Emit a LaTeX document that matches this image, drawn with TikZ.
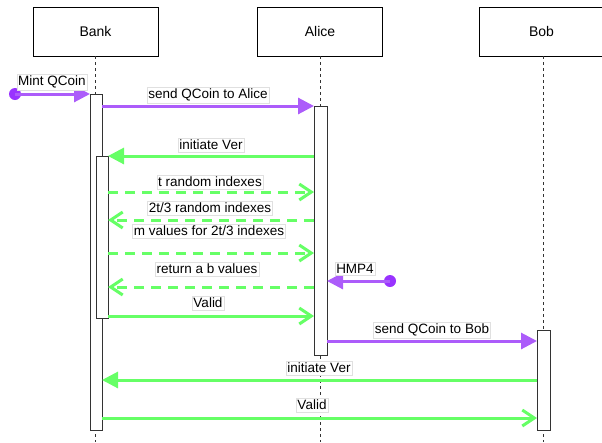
\documentclass[tikz,border=0pt]{standalone}
\usepackage{fontspec}
\setmainfont{Liberation Sans}
\usetikzlibrary{arrows.meta}
\definecolor{vio}{HTML}{AC5CFA}
\definecolor{viodot}{HTML}{9933FF}
\definecolor{grn}{HTML}{66FF66}
\tikzset{
  header/.style={draw=black, fill=white, line width=0.8pt, minimum width=125pt, minimum height=49pt, inner sep=0pt, font=\fontsize{14}{16}\selectfont},
  lifeline/.style={draw=black!80, line width=0.8pt, dash pattern=on 3pt off 3pt},
  actbar/.style={draw=black!80, fill=white, line width=0.9pt},
  lbl/.style={fill=white, draw=black!12, line width=0.4pt, inner xsep=1.5pt, inner ysep=2pt, font=\fontsize{13.5}{15}\selectfont},
  msgV/.style={draw=vio, line width=3pt, -{Triangle[length=16pt,width=16pt]}},
  msgG/.style={draw=grn, line width=3pt, -{Triangle[length=16pt,width=16pt]}},
  msgGo/.style={draw=grn, line width=3pt, -{Straight Barb[length=12pt,width=16pt]}},
  msgGd/.style={msgGo, dash pattern=on 10pt off 7pt},
  dotstyle/.style={circle, fill=viodot, inner sep=0pt, minimum size=12pt},
}
\begin{document}
\begin{tikzpicture}[x=1pt,y=-1pt]
\useasboundingbox (0,0) rectangle (602,442);
% headers
\node[header] (bank) at (95.5,31.5) {Bank};
\node[header] (alice) at (320,31.5) {Alice};
\node[header] (bob) at (541.5,31.5) {Bob};
% lifeline ends
\coordinate (bankend) at (95.5,442);
\coordinate (aliceend) at (320,442);
\coordinate (bobend) at (543.5,442);
\draw[lifeline] (bank.south) -- (bankend);
\draw[lifeline] (alice.south) -- (aliceend);
\draw[lifeline] (bob.south -| bobend) -- (bobend);
% activation bars
\draw[actbar] (90,94) rectangle (102,430);
\draw[actbar] (96,156) rectangle (108,318);
\draw[actbar] (314,106) rectangle (327,355);
\draw[actbar] (537,330) rectangle (550,430);
% endpoints
\node[dotstyle] (mintdot) at (15,94) {};
\coordinate (m1e) at (90,94);
\coordinate (m2s) at (102,106); \coordinate (m2e) at (314,106);
\coordinate (m3s) at (314,156); \coordinate (m3e) at (108,156);
\coordinate (m4s) at (108,192); \coordinate (m4e) at (314,192);
\coordinate (m5s) at (314,220); \coordinate (m5e) at (108,220);
\coordinate (m6s) at (108,253); \coordinate (m6e) at (314,253);
\coordinate (m7s) at (314,287); \coordinate (m7e) at (108,287);
\coordinate (m8s) at (108,316); \coordinate (m8e) at (314,316);
\node[dotstyle] (hmpdot) at (390,281) {};
\coordinate (m9e) at (327,281);
\coordinate (m10s) at (327,341); \coordinate (m10e) at (537,341);
\coordinate (m11s) at (537,380); \coordinate (m11e) at (102,380);
\coordinate (m12s) at (102,418); \coordinate (m12e) at (537,418);
% messages
\draw[msgV] (mintdot.center) -- (m1e);
\draw[msgV] (m2s) -- (m2e);
\draw[msgG] (m3s) -- (m3e);
\draw[msgGd] (m4s) -- (m4e);
\draw[msgGd] (m5s) -- (m5e);
\draw[msgGd] (m6s) -- (m6e);
\draw[msgGd] (m7s) -- (m7e);
\draw[msgGo] (m8s) -- (m8e);
\draw[msgV] (hmpdot.center) -- (m9e);
\draw[msgV] (m10s) -- (m10e);
\draw[msgG] (m11s) -- (m11e);
\draw[msgGo] (m12s) -- (m12e);
% labels
\node[lbl] (l1) at (52,82) {Mint QCoin};
\node[lbl] (l2) at (208,95) {send QCoin to Alice};
\node[lbl] (l3) at (211,145) {initiate Ver};
\node[lbl] (l4) at (210,182) {t random indexes};
\node[lbl] (l5) at (210,208) {2t/3 random indexes};
\node[lbl] (l6) at (209,231) {m values for 2t/3 indexes};
\node[lbl] (l7) at (207,269) {return a b values};
\node[lbl] (l8) at (208,303) {Valid};
\node[lbl] (l9) at (355,269) {HMP4};
\node[lbl] (l10) at (432,330) {send QCoin to Bob};
\node[lbl] (l11) at (319,368) {initiate Ver};
\node[lbl] (l12) at (312,405) {Valid};
\end{tikzpicture}
\end{document}
